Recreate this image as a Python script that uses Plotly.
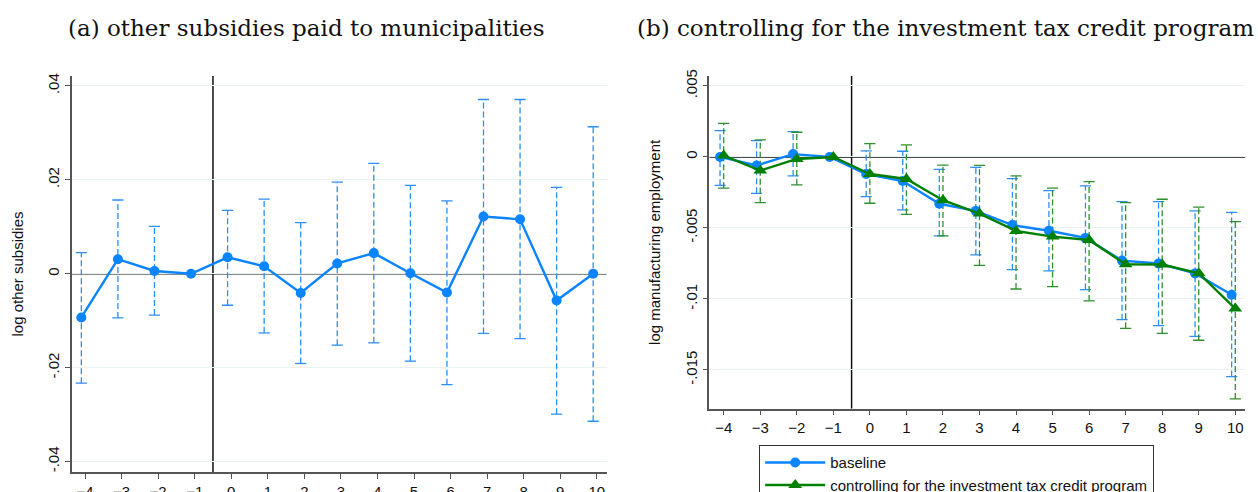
import plotly.graph_objects as go

# ---------------- data ----------------
periods = [-4, -3, -2, -1, 0, 1, 2, 3, 4, 5, 6, 7, 8, 9, 10]

# panel (a): log other subsidies
a_coef = [-0.0093, 0.0031, 0.0006, 0.0, 0.0035, 0.0016, -0.0041, 0.0022, 0.0044, 0.0001, -0.0040, 0.0122, 0.0116, -0.0057, 0.0]
a_hi = [0.0045, 0.0157, 0.0101, None, 0.0135, 0.0159, 0.0109, 0.0195, 0.0235, 0.0188, 0.0155, 0.0371, 0.0371, 0.0184, 0.0313]
a_lo = [-0.0233, -0.0094, -0.0088, None, -0.0067, -0.0126, -0.0191, -0.0152, -0.0147, -0.0186, -0.0236, -0.0127, -0.0138, -0.0299, -0.0314]

# panel (b): baseline
b_coef = [0.0, -0.0006, 0.0002, 0.0, -0.0012, -0.0017, -0.0033, -0.0038, -0.0048, -0.0052, -0.0057, -0.0073, -0.0075, -0.0082, -0.0097]
b_hi = [0.00185, 0.00115, 0.00178, None, 0.00042, 0.0004, -0.00087, -0.00073, -0.00153, -0.00237, -0.00204, -0.00315, -0.00315, -0.0038, -0.0039]
b_lo = [-0.0020, -0.00256, -0.00134, None, -0.0028, -0.00373, -0.00556, -0.0069, -0.00794, -0.00803, -0.00934, -0.01146, -0.01188, -0.01263, -0.01547]

# panel (b): controlling for the investment tax credit program
c_coef = [0.0001, -0.00096, -0.00014, 0.0, -0.0012, -0.00155, -0.00305, -0.00399, -0.00521, -0.00561, -0.00585, -0.00756, -0.00758, -0.00819, -0.01068]
c_hi = [0.00237, 0.0012, 0.00174, None, 0.00094, 0.00085, -0.00058, -0.00059, -0.00134, -0.0022, -0.00174, -0.00322, -0.00298, -0.00354, -0.00456]
c_lo = [-0.0022, -0.00322, -0.00197, None, -0.00326, -0.00404, -0.00556, -0.00763, -0.0093, -0.00913, -0.01014, -0.01207, -0.01242, -0.01291, -0.01704]

xtick_vals = periods
a_ytick_vals = [-0.04, -0.02, 0, 0.02, 0.04]
a_ytick_text = ["-.04", "-.02", "0", ".02", ".04"]
b_ytick_vals = [-0.015, -0.01, -0.005, 0, 0.005]
b_ytick_text = ["-.015", "-.01", "-.005", "0", ".005"]

title_a = "(a) other subsidies paid to municipalities"
title_b = "(b) controlling for the investment tax credit program"
ylabel_a = "log other subsidies"
ylabel_b = "log manufacturing employment"
name_base = "baseline"
name_ctrl = "controlling for the investment tax credit program"

BLUE = "#0a84ff"
BLUE_CI = "#2b8ff5"
GREEN = "#008000"
GREEN_CI = "#2f8f2f"
SHIFT_BLUE = -0.1

fig = go.Figure()


def add_ci(xs, lo, hi, color, xa, ya, dash="6px,3px"):
    cx, cy = [], []
    capx, capy = [], []
    for x, l, h in zip(xs, lo, hi):
        if l is None or h is None:
            continue
        cx += [x, x, None]
        cy += [l, h, None]
        capx += [x, x]
        capy += [l, h]
    fig.add_trace(go.Scatter(x=cx, y=cy, mode="lines", xaxis=xa, yaxis=ya,
                             line=dict(color=color, width=1.3, dash=dash),
                             showlegend=False, hoverinfo="skip"))
    fig.add_trace(go.Scatter(x=capx, y=capy, mode="markers", xaxis=xa, yaxis=ya,
                             marker=dict(symbol="line-ew-open", size=8, color=color,
                                         line=dict(color=color, width=1.3)),
                             showlegend=False, hoverinfo="skip"))


xb = [p + SHIFT_BLUE for p in periods]

# panel (a)
add_ci(xb, a_lo, a_hi, BLUE_CI, "x", "y")
fig.add_trace(go.Scatter(x=xb, y=a_coef, mode="lines+markers", xaxis="x", yaxis="y",
                         line=dict(color=BLUE, width=2.4),
                         marker=dict(symbol="circle", size=10, color=BLUE),
                         showlegend=False))

# panel (b)
add_ci(xb, b_lo, b_hi, BLUE_CI, "x2", "y2")
add_ci(periods, c_lo, c_hi, GREEN_CI, "x2", "y2")
fig.add_trace(go.Scatter(x=xb, y=b_coef, mode="lines+markers", xaxis="x2", yaxis="y2",
                         name=name_base,
                         line=dict(color=BLUE, width=2.4),
                         marker=dict(symbol="circle", size=10, color=BLUE)))
fig.add_trace(go.Scatter(x=periods, y=c_coef, mode="lines+markers", xaxis="x2", yaxis="y2",
                         name=name_ctrl,
                         line=dict(color=GREEN, width=2.4),
                         marker=dict(symbol="triangle-up", size=12, color=GREEN)))

W, H = 1258, 492
sans = "Liberation Sans, Arial, sans-serif"
FS = 15
axis_common = dict(showline=True, linecolor="#555555", linewidth=1.5,
                   ticks="outside", ticklen=5, tickwidth=1.3, tickcolor="#555555",
                   tickfont=dict(family=sans, size=FS, color="#111"),
                   zeroline=False, mirror=False)

xa_range = [-4.364, 10.27]
xb_range = [-4.394, 10.274]
ya_range = [-0.0422, 0.0421]
yb_range = [-0.01773, 0.0057]

fig.update_layout(
    width=W, height=H,
    margin=dict(l=0, r=0, t=0, b=0, pad=0, autoexpand=False),
    paper_bgcolor="white", plot_bgcolor="white",
    xaxis=dict(domain=[71.7 / W, 606.7 / W], range=xa_range, anchor="y",
               tickvals=xtick_vals, showgrid=False, **axis_common),
    yaxis=dict(domain=[1 - 472 / H, 1 - 76 / H], range=ya_range, anchor="x",
               tickvals=a_ytick_vals, ticktext=a_ytick_text, tickangle=-90,
               showgrid=True, gridcolor="#e9f1f1", gridwidth=1.3,
               title=dict(text=ylabel_a, standoff=18,
                          font=dict(family=sans, size=FS, color="#111")),
               **axis_common),
    xaxis2=dict(domain=[709.3 / W, 1245.3 / W], range=xb_range, anchor="y2",
                tickvals=xtick_vals, showgrid=False, **axis_common),
    yaxis2=dict(domain=[1 - 408.7 / H, 1 - 76 / H], range=yb_range, anchor="x2",
                tickvals=b_ytick_vals, ticktext=b_ytick_text, tickangle=-90,
                showgrid=True, gridcolor="#e9f1f1", gridwidth=1.3,
                title=dict(text=ylabel_b, standoff=18,
                           font=dict(family=sans, size=FS, color="#111")),
                **axis_common),
    legend=dict(x=759 / W, y=1 - 445 / H, xanchor="left", yanchor="top",
                bgcolor="white", bordercolor="#333333", borderwidth=1.2,
                font=dict(family=sans, size=FS, color="#111"),
                itemwidth=60, tracegroupgap=0),
    showlegend=True,
)

# reference lines
line_style = dict(color="#111", width=1.5)
fig.add_shape(type="line", xref="x", yref="y", x0=xa_range[0], x1=xa_range[1], y0=0, y1=0,
              line=line_style, layer="below")
fig.add_shape(type="line", xref="x", yref="y", x0=-0.5, x1=-0.5, y0=ya_range[0], y1=ya_range[1],
              line=line_style, layer="below")
fig.add_shape(type="line", xref="x2", yref="y2", x0=xb_range[0], x1=xb_range[1], y0=0, y1=0,
              line=line_style, layer="below")
fig.add_shape(type="line", xref="x2", yref="y2", x0=-0.5, x1=-0.5, y0=yb_range[0], y1=yb_range[1],
              line=line_style, layer="below")

# panel titles
title_font = dict(family="DejaVu Serif, serif", size=23, color="#111")
fig.add_annotation(x=306.5 / W, y=1 - 28 / H, xref="paper", yref="paper", text=title_a,
                   showarrow=False, font=title_font, xanchor="center", yanchor="middle")
fig.add_annotation(x=945.5 / W, y=1 - 28 / H, xref="paper", yref="paper", text=title_b,
                   showarrow=False, font=title_font, xanchor="center", yanchor="middle")

fig.write_html("out.html", config={"displayModeBar": False},
               post_script="document.body.style.margin='0px';document.body.style.overflow='hidden';")
